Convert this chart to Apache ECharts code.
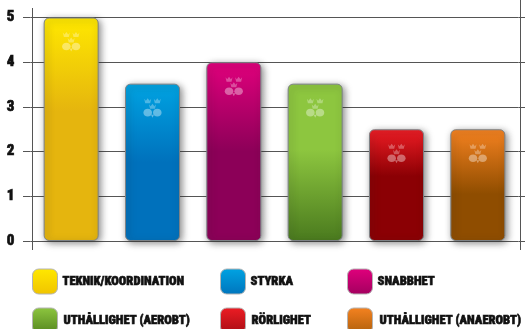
<!DOCTYPE html>
<html>
<head>
<meta charset="utf-8">
<style>html,body{margin:0;padding:0;background:#fff}#chart{width:525px;height:329px}</style>
<script src="https://cdn.jsdelivr.net/npm/echarts@6/dist/echarts.min.js"></script>
</head>
<body>
<div id="chart"></div>
<script>
const categories = ['TEKNIK/KOORDINATION', 'STYRKA', 'SNABBHET', 'UTHÅLLIGHET (AEROBT)', 'RÖRLIGHET', 'UTHÅLLIGHET (ANAEROBT)'];
const scores = [5, 3.52, 4, 3.52, 2.5, 2.5];
const yTicks = [0, 1, 2, 3, 4, 5];
// top colour, mid colour, stop where the mid colour is reached, bottom colour
const barTop = ['#ffe800', '#00a3e2', '#e0007c', '#8dc63f', '#ed1c24', '#f58220'];
const barMid = ['#e5b50e', '#0071bc', '#8c0058', '#8dc63f', '#8b0004', '#8f4d00'];
const barStop = [0.42, 0.5, 0.5, 0.42, 0.42, 0.58];
const barEnd = ['#e5b50e', '#0071bc', '#8c0058', '#4a7a1e', '#8b0004', '#8f4d00'];
const swatchEnd = ['#f0c400', '#0075bd', '#a3005f', '#55861f', '#a80e14', '#b0600c'];
const legendX = [32, 220, 347, 32, 220, 347];
const legendY = [268.5, 268.5, 268.5, 307.5, 307.5, 307.5];
const legendGap = [0, 0, 0, 1, 1, 2];

const LABEL_FONT = '"Roboto Condensed", "Open Sans Condensed", sans-serif';
const AXIS_COLOR = '#555555';

function fill(i) {
  return new echarts.graphic.LinearGradient(0, 0, 0, 1, [
    { offset: 0, color: barTop[i] },
    { offset: barStop[i], color: barMid[i] },
    { offset: 1, color: barEnd[i] }
  ]);
}

function swatchFill(i) {
  return new echarts.graphic.LinearGradient(0, 0, 0, 1, [
    { offset: 0, color: barTop[i] },
    { offset: 1, color: swatchEnd[i] }
  ]);
}

const barSeries = categories.map((name, i) => ({
  type: 'bar',
  name,
  barWidth: 55,
  barGap: '-100%',
  z: 3,
  data: scores.map((v, j) => (j === i ? v : null)),
  itemStyle: {
    color: fill(i),
    borderColor: '#7d8286',
    borderWidth: 1,
    borderRadius: 5,
    shadowColor: 'rgba(40,40,40,0.55)',
    shadowBlur: 7,
    shadowOffsetX: 2,
    shadowOffsetY: 2
  }
}));

// Pale emblem on each bar: three crowns above two crossed rackets
function crown(cx, cy) {
  return {
    type: 'polygon',
    shape: { points: [[cx - 3.5, cy - 2.5], [cx - 1.8, cy - 0.5], [cx, cy - 3], [cx + 1.8, cy - 0.5], [cx + 3.5, cy - 2.5], [cx + 2.5, cy + 2], [cx - 2.5, cy + 2]] },
    style: { fill: 'rgba(255,255,255,0.3)' }
  };
}
const emblemSeries = {
  type: 'custom',
  z: 4,
  silent: true,
  data: scores.map((v, i) => [i, v]),
  renderItem(params, api) {
    const p = api.coord([api.value(0), api.value(1)]);
    const x = p[0], y = p[1];
    const light = 'rgba(255,255,255,0.38)';
    return {
      type: 'group',
      children: [
        crown(x - 4.8, y + 17.5),
        crown(x + 4.8, y + 17.5),
        crown(x, y + 23),
        { type: 'ellipse', shape: { cx: x - 4.8, cy: y + 29, rx: 4.3, ry: 3.8 }, style: { fill: light } },
        { type: 'ellipse', shape: { cx: x + 4.8, cy: y + 29, rx: 4.3, ry: 3.8 }, style: { fill: light } },
        { type: 'polygon', shape: { points: [[x - 1.5, y + 31], [x + 1.5, y + 31], [x, y + 34]] }, style: { fill: light } }
      ]
    };
  }
};

const chart = echarts.init(document.getElementById('chart'), null, { renderer: 'canvas' });
chart.setOption({
  animation: false,
  backgroundColor: '#ffffff',
  grid: { left: 30.5, top: 17.5, width: 488, height: 223.5, containLabel: false },
  legend: categories.map((name, i) => ({
    data: [name],
    left: legendX[i],
    top: legendY[i],
    orient: 'horizontal',
    padding: 0,
    itemWidth: 25,
    itemHeight: 25,
    itemGap: 0,
    selectedMode: false,
    icon: 'roundRect',
    itemStyle: { color: swatchFill(i), borderColor: '#b4b4b4', borderWidth: 1, shadowBlur: 0, shadowOffsetX: 0, shadowOffsetY: 0 },
    textStyle: {
      color: '#111111',
      fontFamily: LABEL_FONT,
      fontWeight: 900,
      fontSize: 12.5,
      padding: [3, 0, 0, legendGap[i]],
      textBorderColor: '#111111',
      textBorderWidth: 0.6
    }
  })),
  xAxis: {
    type: 'category',
    data: categories,
    axisLine: { show: false },
    axisTick: { show: false },
    axisLabel: { show: false },
    splitLine: { show: false }
  },
  yAxis: [
    {
      type: 'value',
      min: 0,
      max: 5,
      interval: 1,
      axisLine: { show: false },
      axisTick: { show: true, length: 7.5, lineStyle: { color: AXIS_COLOR, width: 1 } },
      splitLine: { show: true, lineStyle: { color: AXIS_COLOR, width: 1 } },
      axisLabel: {
        margin: 16,
        padding: [2, 0, 0, 0],
        formatter: v => (yTicks.includes(v) ? String(v) : ''),
        color: '#111111',
        fontFamily: LABEL_FONT,
        fontWeight: 900,
        fontSize: 15,
        textBorderColor: '#111111',
        textBorderWidth: 0.6
      }
    },
    {
      type: 'value',
      position: 'right',
      min: 0,
      max: 5,
      interval: 1,
      axisLine: { show: false },
      axisTick: { show: true, length: 7, lineStyle: { color: AXIS_COLOR, width: 1 } },
      axisLabel: { show: false },
      splitLine: { show: false }
    }
  ],
  series: [...barSeries, emblemSeries],
  graphic: [
    { type: 'line', z: 1, shape: { x1: 32.5, y1: 8, x2: 32.5, y2: 250 }, style: { stroke: AXIS_COLOR, lineWidth: 1 } },
    { type: 'line', z: 1, shape: { x1: 520.5, y1: 0, x2: 520.5, y2: 250 }, style: { stroke: AXIS_COLOR, lineWidth: 1 } }
  ]
});
</script>
</body>
</html>
